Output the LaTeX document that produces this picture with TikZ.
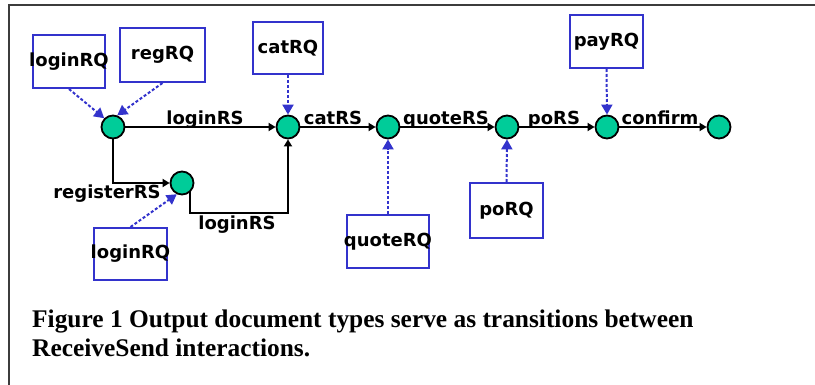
\documentclass[tikz,border=0pt]{standalone}
\usepackage{fontspec}
\setmainfont{Liberation Serif}
\newfontfamily\lblfont{DejaVu Sans}
\usetikzlibrary{arrows.meta,calc}
\definecolor{stategreen}{RGB}{0,204,153}
\definecolor{reqblue}{RGB}{51,51,204}
\definecolor{framegray}{RGB}{60,60,60}
\begin{document}
\begin{tikzpicture}[x=1pt,y=-1pt,
  lbl/.style={font=\lblfont\bfseries\fontsize{18}{18}\selectfont},
  state/.style={circle,draw=black,line width=1.8pt,fill=stategreen,minimum size=23pt,inner sep=0pt},
  reqbox/.style={rectangle,draw=reqblue,line width=2pt,inner sep=0pt,lbl},
  trans/.style={lbl,anchor=base,inner sep=0pt},
  flow/.style={line width=1.9pt,-{Triangle[length=7pt,width=8pt]}},
  feed/.style={draw=reqblue,line width=2pt,dash pattern=on 3pt off 2pt,
    -{Triangle[length=10pt,width=11pt,fill=reqblue]}},
  caption/.style={font=\bfseries\fontsize{25.4}{30}\selectfont,anchor=base west,inner sep=0pt}]
\useasboundingbox (0,0) rectangle (815,385);
% frame
\draw[framegray,line width=2pt] (9,385) -- (9,5) -- (815,5);

% states
\node[state] (s1) at (113,127) {};
\node[state] (s2) at (288,127) {};
\node[state] (s3) at (388,127) {};
\node[state] (s4) at (507,127) {};
\node[state] (s5) at (607,127) {};
\node[state] (s6) at (719,127) {};
\node[state] (s7) at (182,183) {};

% request documents
\node[reqbox,minimum width=72pt,minimum height=53pt] (loginRQa) at (69,61.5) {\makebox[0pt]{\raisebox{-2pt}{loginRQ}}};
\node[reqbox,minimum width=85pt,minimum height=54pt] (regRQ) at (162.5,55) {\makebox[0pt]{\raisebox{-2pt}{regRQ}}};
\node[reqbox,minimum width=70pt,minimum height=52pt] (catRQ) at (288,48) {\makebox[0pt]{\raisebox{-2pt}{catRQ}}};
\node[reqbox,minimum width=73pt,minimum height=53pt] (payRQ) at (606.5,41.5) {\makebox[0pt]{\raisebox{-3pt}{payRQ}}};
\node[reqbox,minimum width=73pt,minimum height=55pt] (poRQ) at (506.5,210.5) {\makebox[0pt]{\raisebox{-2pt}{poRQ}}};
\node[reqbox,minimum width=82pt,minimum height=53pt] (quoteRQ) at (388,241.5) {\makebox[0pt]{\raisebox{-2pt}{quoteRQ}}};
\node[reqbox,minimum width=73pt,minimum height=52pt] (loginRQb) at (130.5,254) {\makebox[0pt]{\raisebox{-2pt}{loginRQ}}};

% transitions
\draw[flow] (s1) -- (s2);
\draw[flow] (s2) -- (s3);
\draw[flow] (s3) -- (s4);
\draw[flow] (s4) -- (s5);
\draw[flow] (s5) -- (s6);
\draw[flow] (s1.south) |- (s7.west);
\coordinate (lowrun) at (0,213);
\draw[flow] (s7.-50) -- (s7.-50 |- lowrun) -- (s2 |- lowrun) -- (s2.south);

% transition labels
\node[trans] (tLogin) at (205,124.5) {loginRS};
\node[trans] (tCat) at (333,124.5) {catRS};
\node[trans] (tQuote) at (446,124.5) {quoteRS};
\node[trans] (tPo) at (554,124.5) {poRS};
\node[trans] (tConfirm) at (660,124.5) {confirm};
\node[trans] (tRegister) at (107,199) {registerRS};
\node[trans] (tLogin2) at (237,230) {loginRS};

% request inputs
\draw[feed] (loginRQa.south) -- (s1.135);
\draw[feed] (regRQ.south) -- (s1.70);
\draw[feed] (catRQ.south) -- (s2.north);
\draw[feed] (quoteRQ.north) -- (s3.south);
\draw[feed] (poRQ.north) -- (s4.south);
\draw[feed] (payRQ.south) -- (s5.north);
\draw[feed] (loginRQb.north) -- (s7.-115);

% caption
\node[caption] (cap1) at (32,327) {Figure 1 Output document types serve as transitions between};
\node[caption] (cap2) at (32,356) {ReceiveSend interactions.};
\end{tikzpicture}
\end{document}
